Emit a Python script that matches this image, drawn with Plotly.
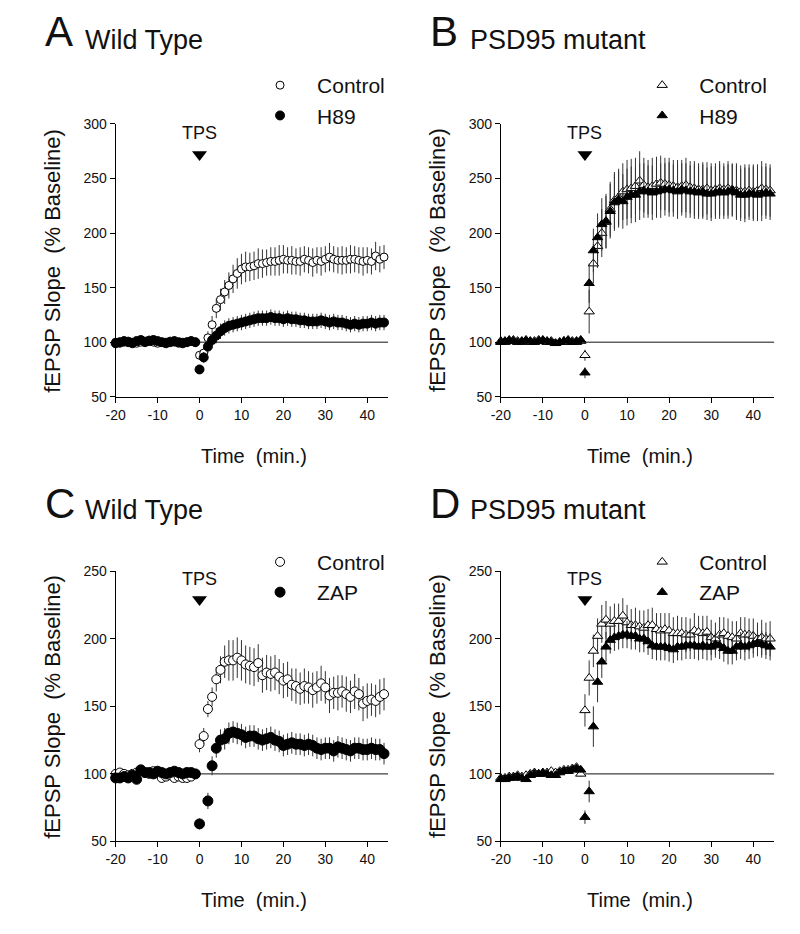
import plotly.graph_objects as go

W, H = 800, 934
FONT = "Arial, 'Liberation Sans', Helvetica, sans-serif"

# ---------------- data ----------------
BASE_TIME = list(range(-20, 0))          # baseline sweeps (min)
POST_TIME = list(range(0, 45))           # post-TPS sweeps (min)
TIME = BASE_TIME + POST_TIME
X_TICKS = [-20, -10, 0, 10, 20, 30, 40]
X_TICK_TEXT = ["-20", "-10", "0", "10", "20", "30", "40"]
Y_TICKS_TOP = [50, 100, 150, 200, 250, 300]
Y_TICKS_BOTTOM = [50, 100, 150, 200, 250]
BASELINE_LEVEL = 100
TPS_TIME = 0

# Panel A: Wild Type, Control vs H89
A_CTRL = [100, 99, 100, 101, 100, 99, 100, 101, 102, 100, 99, 100, 100, 101, 100, 99, 100, 100, 101, 100,
          88, 90, 104, 116, 131, 139, 146, 152, 158, 163, 167, 169, 169, 170, 172, 172, 173, 174, 174, 175,
          176, 175, 175, 174, 174, 176, 175, 173, 175, 174, 176, 178, 176, 175, 175, 175, 176, 176, 175, 174,
          175, 174, 179, 176, 178]
A_CTRL_ERR = [2] * 20 + [4, 5, 6, 8, 9, 10, 11, 12, 13, 14, 14, 14, 13, 13, 14, 13, 12, 13, 13, 14,
                         13, 12, 13, 12, 13, 12, 12, 13, 12, 13, 12, 13, 12, 12, 13, 12, 13, 12, 12, 13,
                         12, 12, 13, 12, 11]
A_H89 = [99, 100, 101, 100, 99, 101, 102, 100, 101, 102, 101, 100, 99, 100, 101, 100, 99, 100, 101, 100,
         75, 86, 96, 102, 106, 110, 113, 115, 116, 117, 118, 119, 120, 121, 122, 122, 122, 123, 122, 122,
         121, 122, 121, 121, 120, 120, 119, 119, 119, 120, 119, 118, 119, 118, 118, 117, 116, 117, 116, 117,
         117, 118, 117, 118, 118]
A_H89_ERR = [2] * 20 + [4, 5, 6, 6, 7] + [7] * 40

# Panel B: PSD95 mutant, Control vs H89
B_CTRL = [101, 100, 101, 102, 101, 100, 101, 100, 101, 102, 101, 100, 101, 99, 100, 101, 100, 101, 100, 101,
          88, 128, 172, 188, 200, 210, 222, 230, 233, 238, 240, 241, 243, 248, 244, 242, 243, 245, 246, 245,
          244, 243, 242, 243, 244, 242, 241, 240, 240, 241, 239, 240, 241, 240, 241, 240, 239, 238, 238, 239,
          238, 239, 241, 240, 239]
B_CTRL_ERR = [2] * 20 + [5, 20, 18, 20, 22, 24, 25, 26, 26, 26, 27, 27, 26, 27, 25, 25, 26, 25, 25, 24,
                         25, 24, 25, 24, 25, 24, 25, 24, 25, 24, 25, 24, 25, 24, 25, 24, 25, 24, 25, 24,
                         25, 24, 25, 24, 24]
B_H89 = [100, 101, 102, 101, 100, 101, 102, 101, 100, 101, 102, 101, 100, 99, 100, 101, 102, 100, 101, 102,
         72, 154, 184, 196, 208, 211, 220, 228, 231, 229, 233, 235, 235, 238, 239, 238, 237, 238, 239, 240,
         240, 239, 238, 240, 239, 238, 238, 237, 238, 236, 236, 237, 238, 237, 238, 239, 237, 235, 235, 236,
         236, 235, 236, 237, 236]
B_H89_ERR = [2] * 20 + [5, 18, 20, 22, 24, 25, 25, 26, 26, 25, 26, 26, 25, 26, 25, 24, 25, 24, 25, 24,
                        25, 24, 25, 24, 25, 24, 25, 24, 25, 24, 25, 24, 25, 24, 25, 24, 25, 24, 25, 24,
                        25, 24, 25, 24, 24]

# Panel C: Wild Type, Control vs ZAP
C_CTRL = [100, 101, 100, 99, 100, 101, 102, 101, 100, 102, 101, 97, 98, 99, 97, 98, 97, 97, 98, 100,
          122, 128, 148, 157, 170, 177, 183, 184, 184, 186, 184, 181, 180, 179, 182, 173, 175, 174, 175, 172,
          169, 170, 166, 165, 163, 165, 164, 162, 164, 167, 164, 158, 160, 160, 161, 159, 157, 161, 159, 152,
          154, 155, 154, 157, 159]
C_CTRL_ERR = [2] * 20 + [6, 6, 6, 7, 9, 10, 12, 15, 15, 15, 15, 14, 14, 14, 14, 13, 13, 13, 13, 13,
                         13, 13, 12, 13, 12, 13, 12, 13, 12, 13, 12, 13, 12, 13, 12, 13, 12, 13, 12, 13,
                         13, 12, 12, 13, 12]
C_ZAP = [97, 97, 98, 97, 99, 96, 103, 101, 101, 100, 102, 101, 100, 101, 102, 101, 100, 101, 101, 100,
         63, None, 80, 106, 119, 125, 126, 130, 131, 130, 129, 127, 128, 128, 126, 125, 126, 127, 125, 124,
         121, 122, 123, 122, 122, 121, 122, 121, 119, 118, 119, 119, 117, 120, 119, 118, 117, 119, 119, 118,
         118, 119, 118, 118, 115]
C_ZAP_ERR = [2] * 20 + [4, 0, 6, 7, 7] + [8] * 40

# Panel D: PSD95 mutant, Control vs ZAP
D_CTRL = [97, 97, 98, 98, 99, 98, 99, 100, 101, 100, 100, 101, 102, 101, 102, 103, 103, 104, 105, 100,
          147, 171, 191, 202, 211, 214, 211, 213, 213, 217, 212, 210, 210, 209, 208, 210, 210, 207, 206, 207,
          206, 204, 204, 204, 203, 203, 206, 205, 204, 205, 201, 200, 203, 204, 202, 201, 200, 204, 203, 203,
          202, 200, 201, 200, 200]
D_CTRL_ERR = [2] * 20 + [12, 13, 12, 13, 14, 14, 13, 13, 13, 13, 13, 12, 13, 12, 13, 12, 13, 12, 13, 12,
                         13, 12, 13, 12, 13, 12, 13, 12, 13, 12, 13, 12, 13, 12, 13, 12, 13, 12, 13, 12,
                         13, 12, 13, 12, 13]
D_ZAP = [96, 96, 97, 97, 98, 97, 96, 99, 100, 100, 101, 100, 99, 99, 101, 102, 102, 103, 104, 103,
         68, 87, 135, 168, 183, 194, 199, 201, 202, 203, 203, 202, 202, 200, 200, 198, 195, 194, 194, 194,
         193, 192, 194, 194, 195, 195, 195, 194, 195, 194, 194, 196, 195, 193, 191, 191, 194, 195, 194, 195,
         196, 197, 196, 195, 194]
D_ZAP_ERR = [2] * 20 + [5, 8, 15, 15, 12, 11, 10, 10, 10, 10, 10, 10, 10, 10, 10, 10, 10, 10, 10, 10,
                        10, 10, 10, 10, 10, 10, 10, 10, 10, 10, 10, 10, 10, 10, 10, 10, 10, 10, 10, 10,
                        10, 10, 10, 10, 10]


# ---------------- layout helpers ----------------
def fx(px):
    return px / W


def fy(py):
    return 1 - py / H


PANELS = [
    dict(key="A", title="Wild Type", ax="", x0=107, x1=383, ytop=118, ybot=395.5,
         yr=[50, 300], yt=Y_TICKS_TOP, legend="legend",
         series=[("Control", A_CTRL, A_CTRL_ERR, "circle-open"), ("H89", A_H89, A_H89_ERR, "circle")],
         tps=(292, 272), size=(8, 9)),
    dict(key="B", title="PSD95 mutant", ax="2", x0=497, x1=774, ytop=118, ybot=395.5,
         yr=[50, 300], yt=Y_TICKS_TOP, legend="legend2",
         series=[("Control", B_CTRL, B_CTRL_ERR, "triangle-up-open"), ("H89", B_H89, B_H89_ERR, "triangle-up")],
         tps=(292, 272), size=(9, 9)),
    dict(key="C", title="Wild Type", ax="3", x0=107, x1=383, ytop=573, ybot=848,
         yr=[50, 250], yt=Y_TICKS_BOTTOM, legend="legend3",
         series=[("Control", C_CTRL, C_CTRL_ERR, "circle-open"), ("ZAP", C_ZAP, C_ZAP_ERR, "circle")],
         tps=(244, 229), size=(9, 10)),
    dict(key="D", title="PSD95 mutant", ax="4", x0=497, x1=774, ytop=573, ybot=848,
         yr=[50, 250], yt=Y_TICKS_BOTTOM, legend="legend4",
         series=[("Control", D_CTRL, D_CTRL_ERR, "triangle-up-open"), ("ZAP", D_ZAP, D_ZAP_ERR, "triangle-up")],
         tps=(244, 229), size=(9, 9)),
]

fig = go.Figure()
annotations = []
shapes = []
layout = {}

for i, p in enumerate(PANELS):
    xa, ya = "x" + p["ax"], "y" + p["ax"]
    xname, yname = "xaxis" + p["ax"], "yaxis" + p["ax"]
    axis_common = dict(showline=True, linecolor="black", linewidth=1, showgrid=False, zeroline=False,
                       ticks="outside", ticklen=5, tickwidth=1, tickcolor="black",
                       tickfont=dict(family=FONT, size=14, color="#111"))
    layout[xname] = dict(axis_common, domain=[fx(p["x0"]), fx(p["x1"])], range=[-20, 45],
                         tickvals=X_TICKS, ticktext=X_TICK_TEXT, anchor=ya)
    layout[yname] = dict(axis_common, domain=[fy(p["ybot"]), fy(p["ytop"])], range=p["yr"],
                         tickvals=p["yt"], anchor=xa)

    # baseline reference line
    shapes.append(dict(type="line", xref=xa, yref=ya, x0=TPS_TIME, x1=45, y0=BASELINE_LEVEL,
                       y1=BASELINE_LEVEL, line=dict(color="#111", width=1), layer="below"))

    for j, (name, vals, err, sym) in enumerate(p["series"]):
        open_ = sym.endswith("open")
        fig.add_trace(go.Scatter(
            x=TIME, y=vals, mode="markers", name=name, xaxis=xa, yaxis=ya, legend=p["legend"],
            error_y=dict(type="data", array=err, visible=True, thickness=1, width=0, color="#333"),
            marker=dict(symbol=sym.replace("-open", ""), size=p["size"][j],
                        color="white" if open_ else "black",
                        line=dict(color="black", width=1)),
            cliponaxis=False,
        ))

    # TPS marker
    fig.add_trace(go.Scatter(x=[TPS_TIME], y=[p["tps"][1]], mode="markers", xaxis=xa, yaxis=ya,
                             showlegend=False, cliponaxis=False, hoverinfo="skip",
                             marker=dict(symbol="triangle-down", size=13, color="black")))
    annotations.append(dict(x=TPS_TIME, y=p["tps"][0], xref=xa, yref=ya, text="TPS", showarrow=False,
                            font=dict(family=FONT, size=18, color="#111")))

    # axis titles
    cx = (p["x0"] + p["x1"]) / 2
    cy = (p["ytop"] + p["ybot"]) / 2
    annotations.append(dict(x=fx(cx + 2), y=fy(p["ybot"] + 60), xref="paper", yref="paper",
                            text="Time\u00a0 (min.)", showarrow=False, xanchor="center", yanchor="middle",
                            font=dict(family=FONT, size=20, color="#111")))
    annotations.append(dict(x=fx(p["x0"] - 64), y=fy(cy), xref="paper", yref="paper", textangle=-90,
                            text="fEPSP Slope\u00a0 (% Baseline)", showarrow=False, xanchor="center",
                            yanchor="middle", font=dict(family=FONT, size=22, color="#111")))

    # panel label + title
    top = i < 2
    lx = 33 if p["x0"] < 300 else 423
    ly = 23.5 if top else 504
    ty = 32.5 if top else 511
    annotations.append(dict(x=fx(lx), y=fy(ly), xref="paper", yref="paper", text=p["key"],
                            showarrow=False, xanchor="left", yanchor="middle",
                            font=dict(family=FONT, size=42, color="#111")))
    annotations.append(dict(x=fx(lx + 41), y=fy(ty), xref="paper", yref="paper", text=p["title"],
                            showarrow=False, xanchor="left", yanchor="middle",
                            font=dict(family=FONT, size=27, color="#111")))

    # legend
    lgx = 236 if p["x0"] < 300 else 623
    lgy = 58 if top else 543
    layout[p["legend"]] = dict(x=fx(lgx), y=fy(lgy), xanchor="left", yanchor="top",
                               bgcolor="rgba(0,0,0,0)", itemwidth=64, tracegroupgap=0,
                               font=dict(family=FONT, size=21, color="#111"))

fig.update_layout(
    width=W, height=H, margin=dict(l=0, r=0, t=0, b=0),
    paper_bgcolor="white", plot_bgcolor="white", showlegend=True,
    annotations=annotations, shapes=shapes, **layout,
)

fig.write_html("out.html", config={"displayModeBar": False},
               post_script="document.body.style.margin='0px';")
